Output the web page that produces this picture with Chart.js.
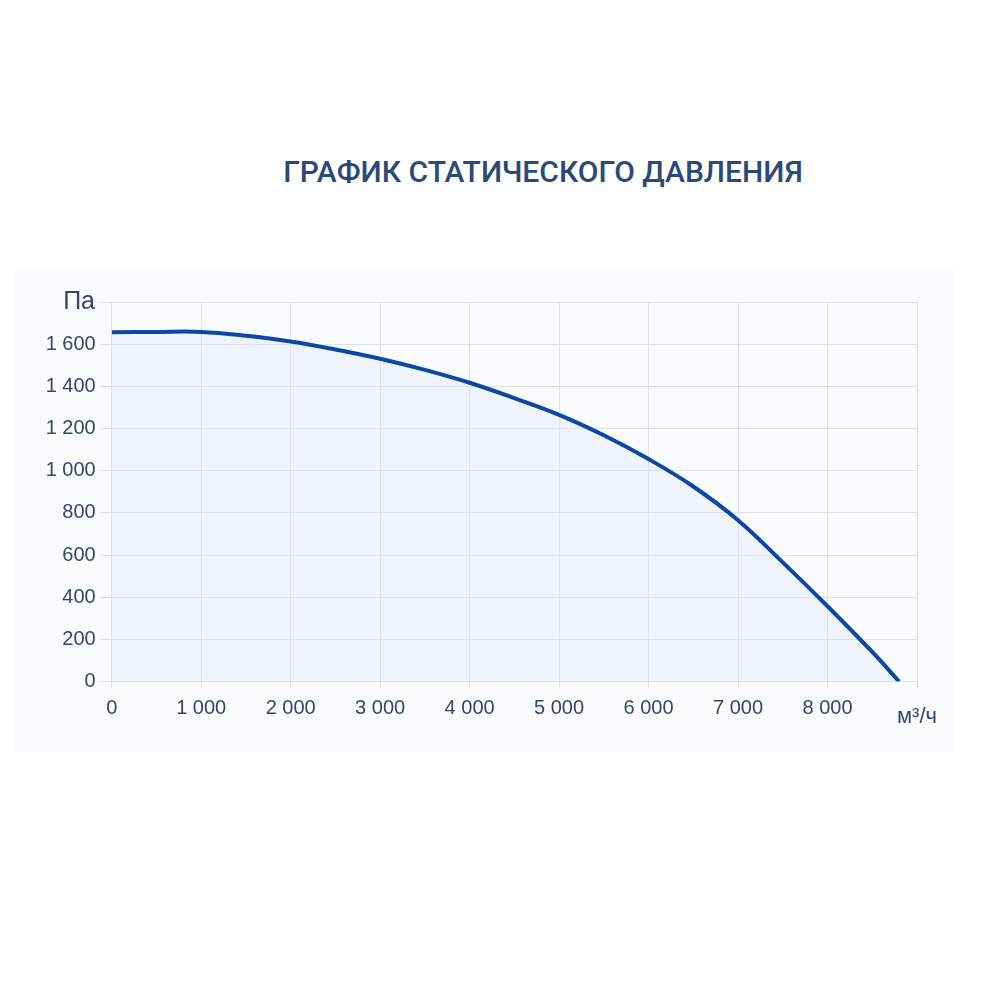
<!DOCTYPE html>
<html>
<head>
<meta charset="utf-8">
<script src="https://cdn.jsdelivr.net/npm/chart.js@4"></script>
<style>
  html, body { margin: 0; padding: 0; background: #fff; }
  #wrap { position: relative; width: 1000px; height: 1000px; }
  #panel { position: absolute; left: 15px; top: 268px; width: 940px; height: 484px; background: #fafbfd; }
  #title {
    position: absolute; left: 0; top: 154px; width: 1086px; text-align: center;
    font-family: Roboto, sans-serif; font-weight: 500; font-size: 30px; color: #2b4a7a;
  }
  canvas { position: absolute; left: 0; top: 0; }
</style>
</head>
<body>
<div id="wrap">
  <div id="panel"></div>
  <div id="title">ГРАФИК СТАТИЧЕСКОГО ДАВЛЕНИЯ</div>
  <canvas id="chart" width="1000" height="1000"></canvas>
</div>
<script>
// расход, м3/ч
const flow = [0, 500, 1000, 1500, 2000, 2500, 3000, 3500, 4000, 4500, 5000, 5500, 6000, 6500, 7000, 7500, 8000, 8500, 8800];
// статическое давление, Па
const pressure = [1656, 1658, 1658, 1640, 1613, 1575, 1531, 1478, 1417, 1344, 1265, 1168, 1055, 925, 765, 565, 357, 140, 0];

const xTicks = [0, 1000, 2000, 3000, 4000, 5000, 6000, 7000, 8000, 9000];
const yTicks = [0, 200, 400, 600, 800, 1000, 1200, 1400, 1600, 1800];
const xUnit = 'м³/ч';
const yUnit = 'Па';

const tickColor = '#34476b';
const gridColor = '#dfe2e8';
const tickFont = { family: '"Liberation Sans", Arial, sans-serif', size: 20 };

function fmt(v) {
  return String(v).replace(/\B(?=(\d{3})+(?!\d))/g, ' ');
}

const units = {
  id: 'units',
  afterDraw(chart) {
    const ctx = chart.ctx;
    const x = chart.scales.x, y = chart.scales.y;
    ctx.save();
    ctx.fillStyle = '#2f4675';
    ctx.font = '25px "Liberation Sans", Arial, sans-serif';
    ctx.textAlign = 'right';
    ctx.textBaseline = 'middle';
    ctx.fillText(yUnit, 95, y.getPixelForValue(1800));
    ctx.font = '22px "Liberation Sans", Arial, sans-serif';
    ctx.textAlign = 'center';
    ctx.fillText(xUnit, x.getPixelForValue(9000), 717);
    ctx.restore();
  }
};

const points = flow.map((f, i) => ({ x: f, y: pressure[i] }));

new Chart(document.getElementById('chart'), {
  type: 'line',
  data: {
    datasets: [{
      data: points,
      borderColor: '#0d47a6',
      borderWidth: 4,
      backgroundColor: 'rgba(222, 232, 248, 0.38)',
      fill: 'origin',
      pointRadius: 0,
      tension: 0.4
    }]
  },
  options: {
    responsive: false,
    animation: false,
    layout: { padding: { top: 302, right: 83, bottom: 0, left: 0 } },
    plugins: { legend: { display: false }, tooltip: { enabled: false } },
    scales: {
      x: {
        type: 'linear',
        min: 0, max: 9000,
        afterBuildTicks(s) { s.ticks = xTicks.map(v => ({ value: v })); },
        afterFit(s) { s.height = 318.5; },
        grid: { color: gridColor, tickLength: 6 },
        border: { color: gridColor },
        ticks: {
          color: tickColor, padding: 9, font: tickFont,
          callback: v => v === 9000 ? '' : fmt(v)
        }
      },
      y: {
        min: 0, max: 1800,
        afterBuildTicks(s) { s.ticks = yTicks.map(v => ({ value: v })); },
        afterFit(s) { s.width = 111.7; },
        grid: { color: gridColor, tickLength: 11 },
        border: { color: gridColor },
        ticks: {
          color: tickColor, padding: 5, font: tickFont,
          callback: v => v === 1800 ? '' : fmt(v)
        }
      }
    }
  },
  plugins: [units]
});
</script>
</body>
</html>
